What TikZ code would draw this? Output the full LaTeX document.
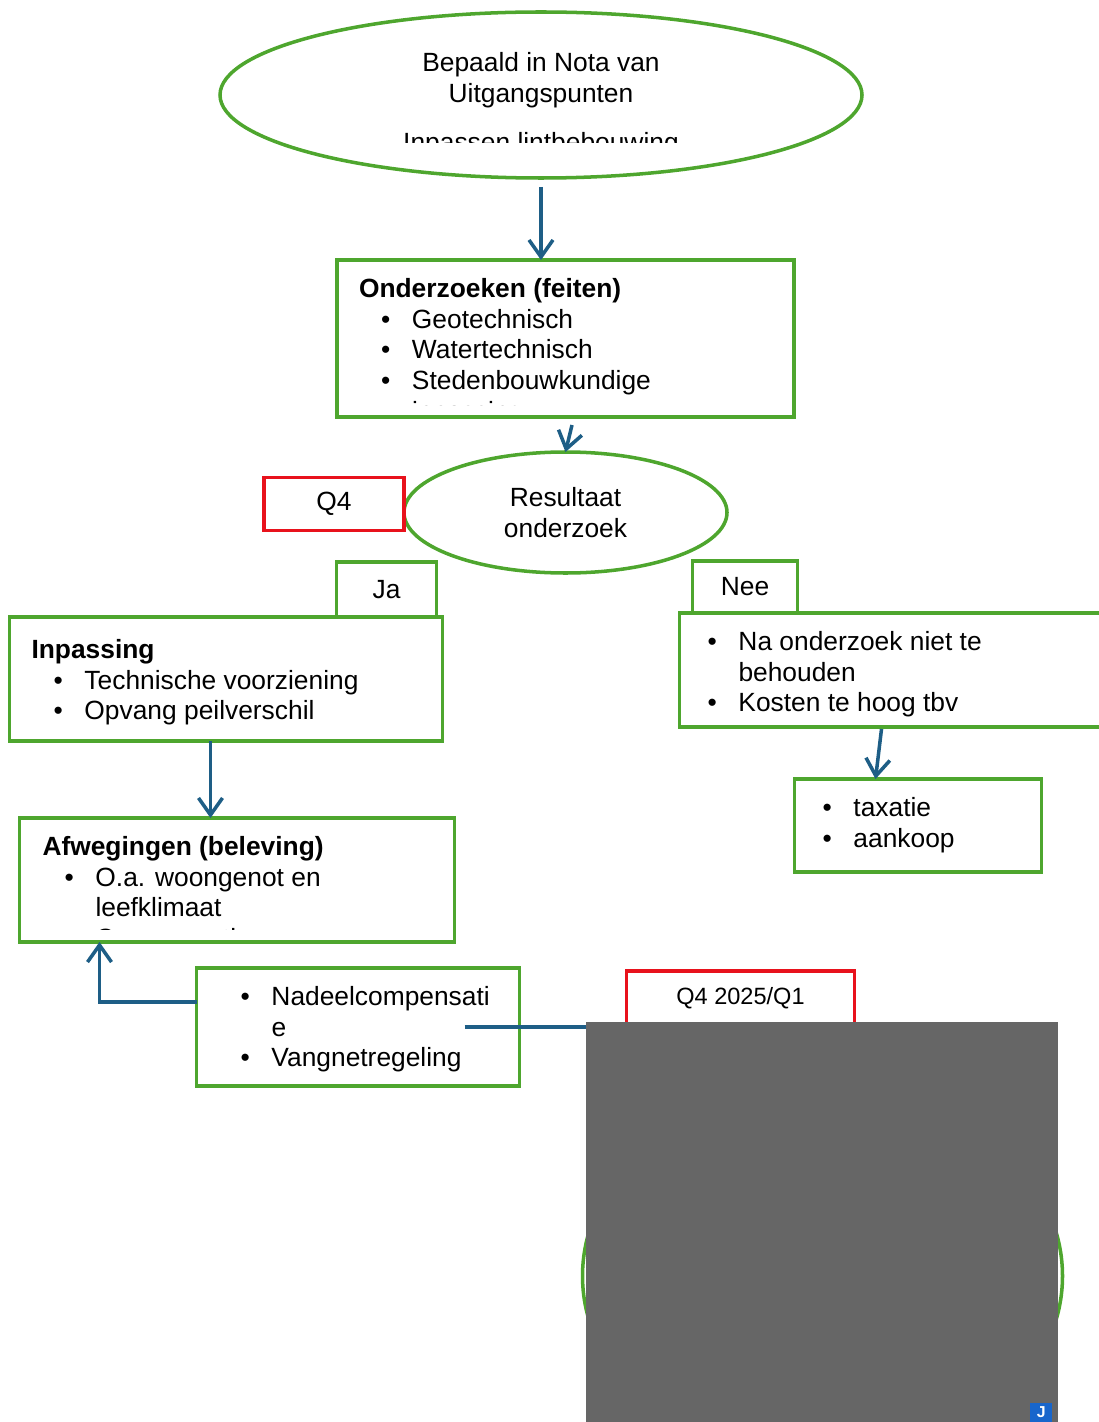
\documentclass[tikz,border=0pt]{standalone}
\usepackage{fontspec}
\setmainfont{Liberation Sans}
\usetikzlibrary{positioning,shapes.geometric,arrows.meta}

\definecolor{groen}{RGB}{78,166,46}
\definecolor{rood}{RGB}{232,18,28}
\definecolor{pijlblauw}{RGB}{30,94,134}
\definecolor{grijs}{RGB}{102,102,102}
\definecolor{icoonblauw}{RGB}{24,102,204}

\newcommand{\punt}[1]{\hspace*{0.44cm}\makebox[0.62cm][l]{\textbullet}#1}
\newcommand{\verder}[1]{\hspace*{1.06cm}#1}

\begin{document}
\begin{tikzpicture}[
font=\fontsize{15pt}{17.6pt}\selectfont,
blok/.style={draw=groen, line width=2pt, inner sep=0pt, outer sep=0pt},
ovaal/.style={ellipse, draw=groen, line width=2pt, inner sep=0pt, outer sep=0pt, align=center},
rood/.style={draw=rood, line width=2pt, inner sep=0pt, outer sep=0pt},
tekst/.style={align=left, inner sep=0pt, outer sep=0pt},
pijl/.style={draw=pijlblauw, line width=2pt, -{Straight Barb[length=0.34cm, width=0.48cm]}},
lijn/.style={draw=pijlblauw, line width=2pt}
]
\useasboundingbox (0,0) rectangle (21.98,-28.44);
%Nodes
\node[ovaal, minimum width=12.84cm, minimum height=3.32cm] (nota) at (10.82,-1.9) {};
\begin{scope}
\clip ([xshift=-7cm]nota.north) rectangle ([shift={(7cm,-2.62cm)}]nota.north);
\node[tekst, align=center, below=0.8cm of nota.north] (notatekst) {Bepaald in Nota van\\Uitgangspunten\\[0.37cm]Inpassen lintbebouwing};
\end{scope}

\node[blok, minimum width=9.14cm, minimum height=3.14cm, below=1.64cm of nota, xshift=0.49cm] (onderzoek) {};
\begin{scope}
\clip (onderzoek.north west) rectangle ([yshift=0.24cm]onderzoek.south east);
\node[tekst, below right=0.36cm and 0.44cm of onderzoek.north west] (onderzoektekst) {\textbf{Onderzoeken (feiten)}\\\punt{Geotechnisch}\\\punt{Watertechnisch}\\\punt{Stedenbouwkundige}\\\verder{inpassing}};
\end{scope}

\node[ovaal, minimum width=6.46cm, minimum height=2.42cm, below=0.7cm of onderzoek] (resultaat) {Resultaat\\onderzoek};
\node[rood, minimum width=2.8cm, minimum height=1.06cm, left=0cm of resultaat, yshift=0.17cm] (q4) {Q4};

\node[blok, minimum width=8.66cm, minimum height=2.48cm, below left=0.88cm and 2.46cm of resultaat.south] (inpassing) {};
\node[blok, minimum width=2cm, minimum height=1.1cm, above left=0cm and 0.12cm of inpassing.north east] (ja) {Ja};
\node[tekst, below right=0.44cm and 0.44cm of inpassing.north west] (inpassingtekst) {\textbf{Inpassing}\\\punt{Technische voorziening}\\\punt{Opvang peilverschil}};

\node[blok, minimum width=9cm, minimum height=2.28cm, below right=0.8cm and 2.28cm of resultaat.south] (nietbehoud) {};
\node[blok, minimum width=2.1cm, minimum height=1.04cm, above right=0cm and 0.26cm of nietbehoud.north west] (nee) {Nee};
\node[tekst, below right=0.36cm and 0.12cm of nietbehoud.north west] (nietbehoudtekst) {\punt{Na onderzoek niet te}\\\verder{behouden}\\\punt{Kosten te hoog tbv}};

\node[blok, minimum width=4.94cm, minimum height=1.86cm, below right=1.04cm and 2.3cm of nietbehoud.south west] (taxatie) {};
\node[tekst, below right=0.36cm and 0.12cm of taxatie.north west] (taxatietekst) {\punt{taxatie}\\\punt{aankoop}};

\node[blok, minimum width=8.7cm, minimum height=2.48cm, below=1.54cm of inpassing, xshift=0.22cm] (afweging) {};
\begin{scope}
\clip (afweging.north west) rectangle ([yshift=0.26cm]afweging.south east);
\node[tekst, below right=0.36cm and 0.46cm of afweging.north west] (afwegingtekst) {\textbf{Afwegingen (beleving)}\\\punt{O.a. woongenot en}\\\verder{leefklimaat}\\\punt{Compensatie}};
\end{scope}

\node[blok, minimum width=6.46cm, minimum height=2.36cm, below right=0.52cm and 3.54cm of afweging.south west] (nadeel) {};
\node[tekst, below right=0.36cm and 0.44cm of nadeel.north west] (nadeeltekst) {\punt{Nadeelcompensati}\\\verder{e}\\\punt{Vangnetregeling}};

\node[ovaal, minimum width=9.6cm, minimum height=7.6cm] (eind) at ([shift={(6.06cm,-6.16cm)}]nadeel.north east) {};
\node[rood, minimum width=4.56cm, minimum height=1.08cm, font=\fontsize{13.4pt}{16pt}\selectfont, below right=0.06cm and 2.14cm of nadeel.north east] (planning) {Q4 2025/Q1};
\node[fill=grijs, inner sep=0pt, outer sep=0pt, minimum width=9.44cm, minimum height=8cm, below right=1.08cm and 1.32cm of nadeel.north east] (grijsvlak) {};
\node[fill=icoonblauw, text=white, inner sep=0pt, minimum width=0.44cm, minimum height=0.38cm, font=\bfseries\fontsize{9pt}{9pt}\selectfont, above left=0cm and 0.1cm of grijsvlak.south east] (icoon) {J};

%Lines
\draw[pijl] ([yshift=-0.18cm]nota.south) coordinate (p0) -- (p0 |- onderzoek.north);
\draw[pijl] ([shift={(0.13cm,-0.16cm)}]onderzoek.south) -- (resultaat.north);
\draw[pijl] ([xshift=-0.31cm]inpassing.south) coordinate (p1) -- (p1 |- afweging.north);
\draw[pijl] ([shift={(4.04cm,-0.04cm)}]nietbehoud.south west) -- ([xshift=1.62cm]taxatie.north west);
\draw[pijl] ([yshift=-0.68cm]nadeel.north west) -| ([xshift=1.6cm]afweging.south west);
\draw[lijn] ([shift={(5.36cm,-1.18cm)}]nadeel.north west) coordinate (lijnstart) -- (lijnstart -| grijsvlak.west);
\end{tikzpicture}
\end{document}
